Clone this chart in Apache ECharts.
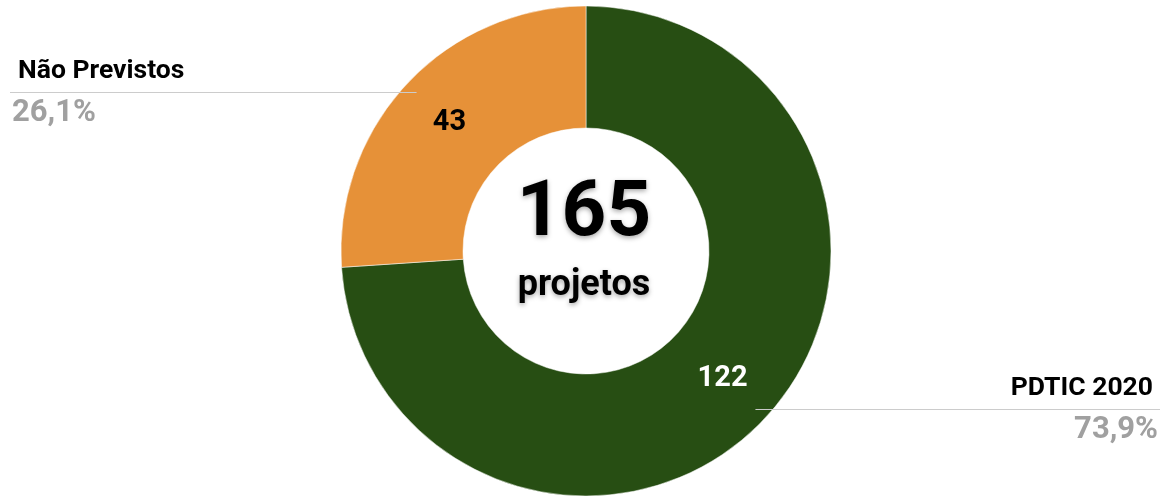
<!DOCTYPE html>
<html>
<head>
<meta charset="utf-8">
<script src="https://cdn.jsdelivr.net/npm/echarts@6/dist/echarts.min.js"></script>
<style>
html,body{margin:0;padding:0;background:#fff;}
#chart{width:1163px;height:496px;}
</style>
</head>
<body>
<div id="chart"></div>
<script>
const categories = ['PDTIC 2020', 'Não Previstos'];
const values = [122, 43];
const colors = ['#274e13', '#e69138'];
const innerLabelColors = ['#ffffff', '#000000'];
const centerUnit = 'projetos';

const total = values.reduce((a, b) => a + b, 0);
const FONT = 'Roboto, "Noto Sans", sans-serif';
const CX = 586, CY = 251;
const R_IN = 123, R_OUT = 245, R_LINE = 232;

const chart = echarts.init(document.getElementById('chart'), null, {renderer: 'canvas'});

const dataInner = categories.map((c, i) => ({
  name: c, value: values[i],
  itemStyle: {color: colors[i]},
  label: {color: innerLabelColors[i]}
}));
const dataOuter = categories.map((c, i) => ({name: c, value: values[i]}));

let acc = 0;
const sides = values.map(v => { const mid = (acc + v / 2) / total; acc += v; return mid < 0.5 ? 'right' : 'left'; });

const option = {
  backgroundColor: '#ffffff',
  animation: false,
  series: [
    {
      type: 'pie',
      center: [CX, CY],
      radius: [R_IN, R_OUT],
      startAngle: 90,
      clockwise: true,
      data: dataInner,
      itemStyle: {borderColor: '#ffffff', borderWidth: 0.5},
      label: {
        show: true,
        position: 'inside',
        formatter: '{c}',
        fontFamily: FONT,
        fontWeight: 'bold',
        fontSize: 29
      },
      labelLine: {show: false},
      silent: true
    },
    {
      type: 'pie',
      center: [CX, CY],
      radius: [R_IN, R_OUT],
      startAngle: 90,
      clockwise: true,
      data: dataOuter,
      itemStyle: {color: 'rgba(0,0,0,0)'},
      silent: true,
      z: 3,
      label: {
        show: true,
        position: 'outside',
        fontFamily: FONT,
        formatter: function (p) {
          const pct = p.percent.toFixed(1).replace('.', ',') + '%';
          const s = sides[p.dataIndex];
          return s === 'left' ? '{nl|' + p.name + '}\n{p|' + pct + '}' : '{nr|' + p.name + '}\n{p|' + pct + '}';
        },
        rich: {
          nl: {fontFamily: FONT, fontWeight: 'bold', fontSize: 26.5, color: '#000000', lineHeight: 42, padding: [0, 0, 0, 6]},
          nr: {fontFamily: FONT, fontWeight: 'bold', fontSize: 26.5, color: '#000000', lineHeight: 42, padding: [0, 5, 0, 0]},
          p: {fontFamily: FONT, fontWeight: 'bold', fontSize: 31, color: '#a0a0a0', lineHeight: 42}
        }
      },
      labelLine: {
        show: true,
        length: 5,
        length2: 10,
        lineStyle: {color: '#cccccc', width: 1}
      },
      labelLayout: function (params) {
        const side = sides[params.dataIndex];
        const pts = params.labelLinePoints;
        const start = pts ? pts[0] : [CX, CY + 1];
        const dx = start[0] - CX, dy = start[1] - CY;
        const len = Math.sqrt(dx * dx + dy * dy) || 1;
        const sx = CX + dx / len * R_LINE;
        const sy = CY + dy / len * R_LINE;
        return {
          x: side === 'left' ? 12 : 1158,
          y: sy,
          align: side,
          verticalAlign: 'middle',
          labelLinePoints: [[sx, sy], [sx, sy], [side === 'left' ? 10 : 1160, sy]]
        };
      }
    }
  ],
  graphic: [
    {
      type: 'text',
      style: {
        x: CX - 2, y: 215,
        text: String(total),
        font: 'bold 78px ' + FONT,
        fill: '#000000',
        align: 'center',
        verticalAlign: 'middle',
        textShadowColor: 'rgba(0,0,0,0.35)',
        textShadowBlur: 5,
        textShadowOffsetY: 2
      },
      z: 10
    },
    {
      type: 'text',
      style: {
        x: CX - 2, y: 286,
        text: centerUnit,
        font: 'bold 36px ' + FONT,
        fill: '#000000',
        align: 'center',
        verticalAlign: 'middle',
        textShadowColor: 'rgba(0,0,0,0.35)',
        textShadowBlur: 5,
        textShadowOffsetY: 2
      },
      z: 10
    }
  ]
};
chart.setOption(option);
</script>
</body>
</html>
